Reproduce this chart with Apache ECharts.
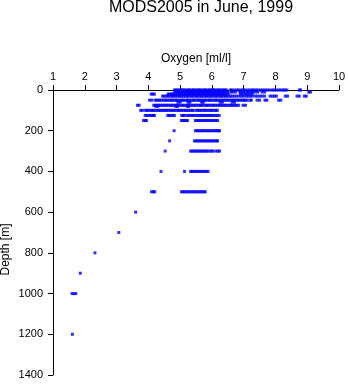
<!DOCTYPE html>
<html>
<head>
<meta charset="utf-8">
<title>MODS2005 in June, 1999</title>
<script src="https://cdn.jsdelivr.net/npm/echarts@6/dist/echarts.min.js"></script>
<style>
  html, body { margin: 0; padding: 0; background: #fff; }
  #chart { width: 348px; height: 384px; }
</style>
</head>
<body>
<div id="chart"></div>
<script>
// Dissolved oxygen profiles (ml/l) grouped by sampling depth (m)
const o0 = [4.82,4.87,4.91,4.96,5.02,5.07,5.11,5.16,5.22,5.27,5.31,5.37,5.42,5.46,5.52,5.57,5.61,5.66,5.72,5.77,5.81,5.87,5.92,5.96,6.02,6.07,6.11,6.17,6.22,6.26,6.32,6.37,6.41,6.46,6.58,6.62,6.7,6.78,6.84,6.92,6.98,7.04,7.12,7.2,7.27,7.32,7.39,7.45,7.53,7.6,7.67,7.74,7.81,7.9,7.96,8.03,8.11,8.17,8.25,8.29,8.36,8.75,8.79];
const o10 = [4.83,4.89,4.93,4.99,5.04,5.08,5.14,5.18,5.24,5.29,5.33,5.39,5.43,5.49,5.54,5.58,5.64,5.69,5.73,5.79,5.83,5.89,5.94,5.98,6.04,6.08,6.14,6.19,6.23,6.29,6.34,6.38,6.44,6.49,6.6,6.66,6.74,6.88,6.95,7.01,7.08,7.15,7.22,7.28,7.36,7.44,7.58,7.66,9.05,9.1];
const o20 = [4.09,4.14,4.19,4.62,4.67,4.72,4.76,4.81,4.87,4.91,4.97,5.01,5.06,5.12,5.16,5.21,5.27,5.31,5.36,5.42,5.46,5.51,5.57,5.61,5.66,5.72,5.76,5.81,5.87,5.91,5.96,6.02,6.06,6.11,6.17,6.21,6.26,6.32,6.36,6.41,6.47,6.52,6.9,6.97,7.05,7.12,7.2,7.27];
const o30 = [4.45,4.5,4.56,4.61,4.66,4.72,4.77,4.81,4.86,4.92,4.97,5.02,5.06,5.11,5.17,5.22,5.26,5.32,5.37,5.41,5.47,5.52,5.56,5.62,5.67,5.71,5.77,5.82,5.86,5.92,5.97,6.01,6.07,6.12,6.16,6.22,6.27,6.31,6.37,6.42,6.46,6.53,6.58,6.64,6.71,6.78,6.86,6.93,7.0,7.08,7.14,7.21,7.27,7.36,7.43,7.51,7.58,7.66,7.83,7.9,7.97,8.03,8.31,8.38,8.68,8.75,8.91,8.97];
const o50 = [4.04,4.11,4.21,4.26,4.31,4.36,4.41,4.47,4.52,4.56,4.61,4.67,4.72,4.76,4.82,4.87,4.91,4.96,5.02,5.07,5.11,5.17,5.22,5.26,5.31,5.37,5.42,5.46,5.52,5.57,5.61,5.66,5.72,5.77,5.81,5.87,5.92,5.96,6.01,6.07,6.12,6.16,6.21,6.27,6.32,6.36,6.42,6.47,6.51,6.56,6.62,6.67,6.71,6.77,6.82,6.86,6.92,6.97,7.01,7.06,7.11,7.2,7.24,7.42,7.5,7.67,7.73,8.1,8.17];
const o60 = [4.93,5.0,5.25,5.31,5.68,5.73,6.26,6.33,6.64,6.71];
const o75 = [3.66,3.71,4.17,4.22,4.27,4.32,4.37,4.42,4.47,4.52,4.57,4.62,4.68,4.72,4.77,4.83,4.88,4.92,4.97,5.03,5.08,5.12,5.18,5.23,5.27,5.32,5.38,5.43,5.47,5.52,5.58,5.63,5.67,5.72,5.78,5.83,5.87,5.92,5.98,6.03,6.07,6.12,6.18,6.23,6.27,6.33,6.38,6.42,6.47,6.53,6.58,6.62,6.68,6.73,6.78,6.84,6.98,7.06];
const o80 = [4.24,4.3,4.86,4.92,5.22,5.27];
const o100 = [3.76,3.81,3.9,3.95,4.0,4.06,4.11,4.16,4.21,4.27,4.32,4.37,4.42,4.48,4.53,4.58,4.63,4.69,4.74,4.79,4.84,4.9,4.95,5.0,5.05,5.11,5.16,5.21,5.26,5.32,5.37,5.42,5.51,5.56,5.61,5.66,5.72,5.77,5.82,5.87,5.93,5.98,6.02,6.09,6.13,6.17];
const o125 = [3.9,3.95,4.01,4.06,4.11,4.16,4.19,4.61,4.66,4.71,4.77,4.82,5.05,5.1,5.14,5.23,5.28,5.34,5.39,5.44,5.5,5.56,5.61,5.66,5.71,5.76,5.81,5.86,5.91,5.96,6.0,6.06,6.11,6.17,6.23];
const o150 = [3.85,3.9,3.94,5.04,5.09,5.14,5.19,5.23,5.48,5.53,5.58,5.63,5.68,5.73,5.78,5.83,5.88,5.93,5.98,6.03,6.08,6.13,6.18];
const o200 = [4.81,5.48,5.53,5.57,5.62,5.67,5.72,5.77,5.82,5.87,5.92,5.97,6.02,6.07,6.12,6.17,6.21,6.24];
const o250 = [4.67,5.45,5.5,5.55,5.6,5.65,5.7,5.75,5.8,5.85,5.9,5.95,6.0,6.05,6.1,6.15,6.18];
const o300 = [4.53,5.33,5.38,5.43,5.48,5.53,5.58,5.63,5.68,5.73,5.78,5.83,5.88,5.94,6.0,6.04,6.13,6.19,6.24];
const o400 = [4.4,5.14,5.33,5.38,5.43,5.48,5.53,5.58,5.63,5.68,5.73,5.78,5.83,5.88];
const o500 = [4.1,4.16,4.2,5.04,5.09,5.14,5.19,5.24,5.3,5.35,5.4,5.45,5.5,5.55,5.6,5.65,5.7,5.75,5.79];
const o600 = [3.6];
const o700 = [3.07];
const o800 = [2.32];
const o900 = [1.86];
const o1000 = [1.6,1.66,1.72];
const o1200 = [1.61];

const depths = [0, 10, 20, 30, 50, 60, 75, 80, 100, 125, 150, 200, 250, 300, 400, 500, 600, 700, 800, 900, 1000, 1200];
const profiles = [o0, o10, o20, o30, o50, o60, o75, o80, o100, o125, o150, o200, o250, o300, o400, o500, o600, o700, o800, o900, o1000, o1200];

// [oxygen, depth] pairs for the scatter
const points = [];
depths.forEach((d, i) => profiles[i].forEach(v => points.push([v, d])));

const FONT = 'Liberation Sans, Arial, Helvetica, sans-serif';

const chart = echarts.init(document.getElementById('chart'), null, { renderer: 'canvas' });
chart.setOption({
  animation: false,
  backgroundColor: '#ffffff',
  title: {
    text: 'MODS2005 in June, 1999',
    left: 196,
    top: -5,
    textAlign: 'center',
    textStyle: { fontFamily: FONT, fontSize: 16, fontWeight: 'normal', color: '#000' }
  },
  grid: { left: 53, right: 9, top: 90, bottom: 9, containLabel: false, outerBoundsMode: 'none' },
  xAxis: {
    type: 'value',
    position: 'top',
    min: 1,
    max: 10,
    interval: 1,
    name: 'Oxygen [ml/l]',
    nameLocation: 'middle',
    nameGap: 25,
    nameMoveOverlap: false,
    nameTextStyle: { fontFamily: FONT, fontSize: 12, color: '#000' },
    axisLine: { show: true, onZero: false, lineStyle: { color: '#000', width: 1 } },
    axisTick: { show: true, length: 5, lineStyle: { color: '#000' } },
    axisLabel: { fontFamily: FONT, fontSize: 11, color: '#000', margin: 8 },
    splitLine: { show: false }
  },
  yAxis: {
    type: 'value',
    inverse: true,
    min: 0,
    max: 1400,
    interval: 200,
    name: 'Depth [m]',
    nameLocation: 'middle',
    nameGap: 41,
    nameMoveOverlap: false,
    nameTextStyle: { fontFamily: FONT, fontSize: 12, color: '#000', padding: [0, 34, 0, 0] },
    axisLine: { show: true, onZero: false, lineStyle: { color: '#000', width: 1 } },
    axisTick: { show: true, length: 5, lineStyle: { color: '#000' } },
    axisLabel: { fontFamily: FONT, fontSize: 11, color: '#000', margin: 10, formatter: v => String(v) },
    splitLine: { show: false }
  },
  series: [{
    type: 'scatter',
    data: points,
    symbol: 'rect',
    symbolSize: [3, 3],
    clip: false,
    itemStyle: { color: '#0000ff' },
    emphasis: { disabled: true }
  }]
});
</script>
</body>
</html>
